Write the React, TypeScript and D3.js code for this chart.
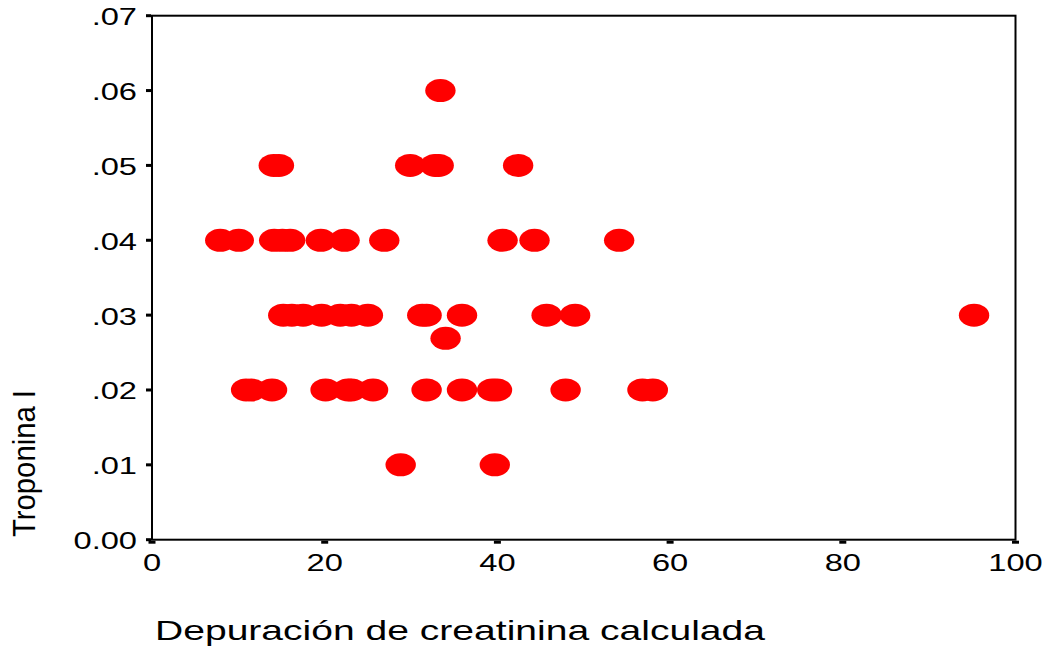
import React from "react";
import * as d3 from "d3";

const xTicks = [0, 20, 40, 60, 80, 100];
const yTicks = [0, 0.01, 0.02, 0.03, 0.04, 0.05, 0.06, 0.07];
const yTickLabels = ["0.00", ".01", ".02", ".03", ".04", ".05", ".06", ".07"];

// Depuración de creatinina calculada (x) vs Troponina I (y)
const clearance = [
  33.4,
  14.1, 14.7, 29.9, 32.8, 33.2, 42.4,
  7.9, 10.05, 14.15, 15.1, 16.0, 19.55, 22.3, 26.9, 40.6, 44.3, 54.1,
  15.2, 16.2, 17.5, 19.65, 21.8, 23.1, 25.0, 31.3, 31.8, 35.9, 45.7, 49.0, 95.2,
  34.0,
  10.9, 11.5, 13.9, 20.1, 22.7, 23.1, 25.6, 31.8, 35.9, 39.4, 39.95, 47.9, 56.8, 58.0,
  28.8, 39.7,
];
const troponin = [
  0.06,
  0.05, 0.05, 0.05, 0.05, 0.05, 0.05,
  0.04, 0.04, 0.04, 0.04, 0.04, 0.04, 0.04, 0.04, 0.04, 0.04, 0.04,
  0.03, 0.03, 0.03, 0.03, 0.03, 0.03, 0.03, 0.03, 0.03, 0.03, 0.03, 0.03, 0.03,
  0.0269,
  0.02, 0.02, 0.02, 0.02, 0.02, 0.02, 0.02, 0.02, 0.02, 0.02, 0.02, 0.02, 0.02, 0.02,
  0.01, 0.01,
];

const xTitle = "Depuración de creatinina calculada";
const yTitle = "Troponina I";

const W = 1047;
const H = 647;
const FONT = "'Liberation Sans', Arial, sans-serif";

export default function App() {
  const x = d3.scaleLinear().domain([0, 100]).range([152, 1015.5]);
  const y = d3.scaleLinear().domain([0, 0.07]).range([539.7, 15.7]);
  const sx = 1.36;

  return (
    <svg
      width={W}
      height={H}
      style={{ position: "absolute", left: 0, top: 0, background: "#fff" }}
    >
      <rect x={0} y={0} width={W} height={H} fill="#fff" />
      {/* points */}
      {clearance.map((v, i) => (
        <ellipse
          key={i}
          cx={x(v)}
          cy={y(troponin[i])}
          rx={15.2}
          ry={11.5}
          fill="#ff0000"
        />
      ))}
      {/* frame */}
      <rect
        x={x(0)}
        y={y(0.07)}
        width={x(100) - x(0)}
        height={y(0) - y(0.07)}
        fill="none"
        stroke="#000"
        strokeWidth={2}
      />
      {/* y ticks */}
      {yTicks.map((t, i) => (
        <g key={"y" + i}>
          <rect x={x(0) - 6} y={y(t) - 1.5} width={5} height={3} fill="#000" />
          <text
            transform={`translate(${x(0) - 15},${y(t) + 9.5}) scale(${sx},1)`}
            textAnchor="end"
            fontFamily={FONT}
            fontSize={24}
            fill="#000"
          >
            {yTickLabels[i]}
          </text>
        </g>
      ))}
      {/* x ticks */}
      {xTicks.map((t, i) => (
        <g key={"x" + i}>
          <rect x={x(t) - 3.5} y={y(0) + 1} width={7} height={3} fill="#000" />
          <text
            transform={`translate(${x(t)},${y(0) + 31.5}) scale(${sx},1)`}
            textAnchor="middle"
            fontFamily={FONT}
            fontSize={24}
            fill="#000"
          >
            {String(t)}
          </text>
        </g>
      ))}
      {/* axis titles */}
      <text
        x={155}
        y={640}
        fontFamily={FONT}
        fontSize={28}
        textLength={610}
        lengthAdjust="spacingAndGlyphs"
        fill="#000"
      >
        {xTitle}
      </text>
      <text
        transform={`translate(35,537) rotate(-90)`}
        fontFamily={FONT}
        fontSize={31}
        textLength={147}
        lengthAdjust="spacingAndGlyphs"
        fill="#000"
      >
        {yTitle}
      </text>
    </svg>
  );
}
